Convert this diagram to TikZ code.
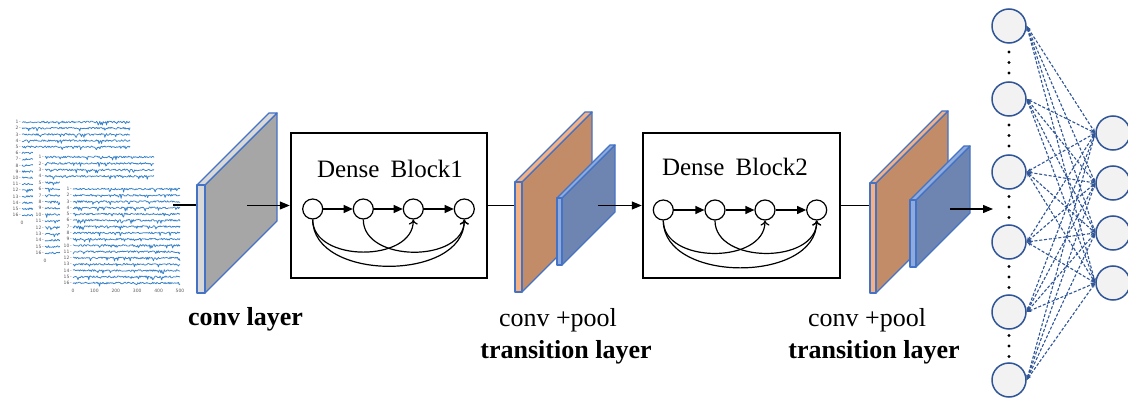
\documentclass[tikz,border=0pt]{standalone}
\usepackage{fontspec}
\setmainfont{Liberation Serif}[BoldFont={Liberation Serif Bold}]
\setsansfont{DejaVu Sans}
\usetikzlibrary{arrows.meta,calc}
\definecolor{ConvFront}{RGB}{217,217,217}
\definecolor{ConvFace}{RGB}{166,166,166}
\definecolor{PoolFront}{RGB}{244,177,131}
\definecolor{PoolFace}{RGB}{194,140,105}
\definecolor{TransFront}{RGB}{143,170,220}
\definecolor{TransFace}{RGB}{111,133,177}
\definecolor{EdgeClr}{RGB}{68,114,196}
\definecolor{LinkClr}{RGB}{47,85,151}
\definecolor{NodeClr}{RGB}{242,242,242}
\definecolor{TraceClr}{RGB}{55,130,200}
\definecolor{TickClr}{RGB}{90,90,90}

\tikzset{
  trace/.style={TraceClr,line width=.75pt,line join=round},
  tick/.style={TickClr,font=\sffamily\fontsize{4.5}{5}\selectfont,inner sep=0pt},
  dbox/.style={draw,line width=2.5pt,minimum height=145pt},
  unit/.style={circle,draw,line width=1.2pt,minimum size=20pt,inner sep=0pt},
  flow/.style={line width=1.2pt,-{Triangle[length=9pt,width=8pt]}},
  skip/.style={line width=1.2pt,-{To[length=5pt,width=9pt]}},
  wire/.style={line width=1.2pt},
  feed/.style={line width=1.2pt,-{Triangle[length=10pt,width=8pt]}},
  neuron/.style={circle,draw=LinkClr,fill=NodeClr,line width=1.5pt,minimum size=34pt,inner sep=0pt},
  nnline/.style={LinkClr,line width=1.1pt,dash pattern=on 3pt off 1.8pt,
    {Stealth[length=5pt,width=3.5pt]}-{Stealth[length=5pt,width=3.5pt]}},
  lbl/.style={anchor=base,inner sep=0pt,font=\fontsize{26}{30}\selectfont},
  boldlbl/.style={anchor=base,inner sep=0pt,font=\bfseries\fontsize{26}{30}\selectfont},
  title/.style={anchor=base,inner sep=0pt,font=\fontsize{25}{30}\selectfont}
}

% #1 x of front strip, #2 top y, #3 strip width, #4 height, #5 depth, #6 strip colour, #7 face colour
\newcommand{\DrawSlab}[7]{%
  \filldraw[#7,draw=EdgeClr,line width=1.3pt,line join=round]
    (#1+#3,#2) -- ++(#5,-#5) -- ++(0,#4) -- ++(-#5,#5) -- cycle;
  \filldraw[#6,draw=EdgeClr,line width=1.3pt,line join=round]
    (#1,#2) -- (#1+#3,#2) -- ++(#5,-#5) -- ++(-#3,0) -- cycle;
  \filldraw[#6,draw=EdgeClr,line width=1.3pt,line join=round]
    (#1,#2) rectangle ++(#3,#4);
}

% #1 left x, #2 top y, #3 row spacing, #4 width, #5 last x tick shown
\newcommand{\EEGPlot}[5]{%
  \foreach \k in {1,...,16}{
    \draw[trace] plot[domain=0:#4,samples=130] ({#1+\x},{#2+(\k-1)*#3+0.9*rand+2.2*(rnd>0.94)});
    \node[tick,anchor=east] at (#1-1,{#2+(\k-1)*#3}) {\k\,-};
  }
  \foreach \n [evaluate=\n as \t using int(100*\n)] in {0,...,#5}
    \node[tick] at ({#1+\n*#4/5},{#2+15*#3+8}) {\t};
}

\begin{document}
\begin{tikzpicture}[x=1pt,y=-1pt]
\useasboundingbox (0,0) rectangle (1128,401);
\pgfmathsetseed{11}

% input recordings
\EEGPlot{22}{122}{6.2}{108}{0}
\fill[white] (33,150) rectangle (158,266);
\EEGPlot{45}{157}{6.4}{109}{0}
\fill[white] (60,181) rectangle (185,297);
\EEGPlot{73}{189}{6.27}{107}{5}

\coordinate (eegout) at (173,205);
\coordinate (convin) at (197,205);
\coordinate (convout) at (247,205.5);
\coordinate (tr1in) at (515,205.5);
\coordinate (tr1out) at (598,205.5);
\coordinate (tr2in) at (870,205.5);
\coordinate (tr2out) at (950,209);
\coordinate (nnin) at (993,209);

\draw[wire] (eegout) -- (convin);

% conv layer
\DrawSlab{197}{185}{8}{108}{72}{ConvFront}{ConvFace}

% dense block 1
\node[dbox,minimum width=196pt] (DB1) at (389,205.5) {};
\node[title] (t1) at (390,178) {Dense\hspace{.45em}Block1};
\foreach \n/\x in {1/312.7,2/363.3,3/413.3,4/464.3}
  \node[unit] (a\n) at (\x,209) {};
\foreach \n [remember=\n as \m (initially 1)] in {2,3,4}
  \draw[flow] (a\m) -- (a\n);
\draw[skip] (a1.south) to[out=-90,in=-90,looseness=1.1] (a3.south);
\draw[skip] (a2.south) to[out=-90,in=-90,looseness=1.1] (a4.south);
\draw[skip] (a1.south) to[out=-90,in=-90,looseness=1.05] (a4.south);

\draw[feed] (convout) -- (DB1.west);
\draw[wire] (DB1.east) -- (tr1in);

% transition layer 1
\DrawSlab{515}{182}{7}{110}{70}{PoolFront}{PoolFace}
\DrawSlab{557}{198}{5}{67}{53}{TransFront}{TransFace}

% dense block 2
\node[dbox,minimum width=197pt] (DB2) at (741.5,205.5) {};
\node[title] (t2) at (735,176) {Dense\hspace{.45em}Block2};
\foreach \n/\x in {1/663.3,2/715,3/765,4/816.7}
  \node[unit] (b\n) at (\x,210) {};
\foreach \n [remember=\n as \m (initially 1)] in {2,3,4}
  \draw[flow] (b\m) -- (b\n);
\draw[skip] (b1.south) to[out=-90,in=-90,looseness=1.1] (b3.south);
\draw[skip] (b2.south) to[out=-90,in=-90,looseness=1.1] (b4.south);
\draw[skip] (b1.south) to[out=-90,in=-90,looseness=1.05] (b4.south);

\draw[feed] (tr1out) -- (DB2.west);
\draw[wire] (DB2.east) -- (tr2in);

% transition layer 2
\DrawSlab{870}{183}{6}{110}{72}{PoolFront}{PoolFace}
\DrawSlab{910}{200}{6}{67}{54}{TransFront}{TransFace}
\draw[feed] (tr2out) -- (nnin);

% fully connected part
\foreach \n/\y in {1/26,2/99,3/172,4/242,5/312,6/380}
  \node[neuron] (L\n) at (1009,\y) {};
\foreach \n/\y in {1/133,2/183,3/233,4/283}
  \node[neuron] (R\n) at (1113,\y) {};
\foreach \y in {62.5,135.5,207,277,346}
  \foreach \d in {-10.5,0,10.5}
    \fill (1009,\y+\d) circle (1.7);
\foreach \i in {1,...,6}
  \foreach \j in {1,...,4}
    \draw[nnline] (L\i.east) -- (R\j.west);

% labels
\node[boldlbl] (convlbl) at (245.5,325) {conv layer};
\node[lbl] (pool1) at (558,326) {conv +pool};
\node[boldlbl] (trans1) at (566,358) {transition layer};
\node[lbl] (pool2) at (867,326) {conv +pool};
\node[boldlbl] (trans2) at (874,358) {transition layer};
\end{tikzpicture}
\end{document}
